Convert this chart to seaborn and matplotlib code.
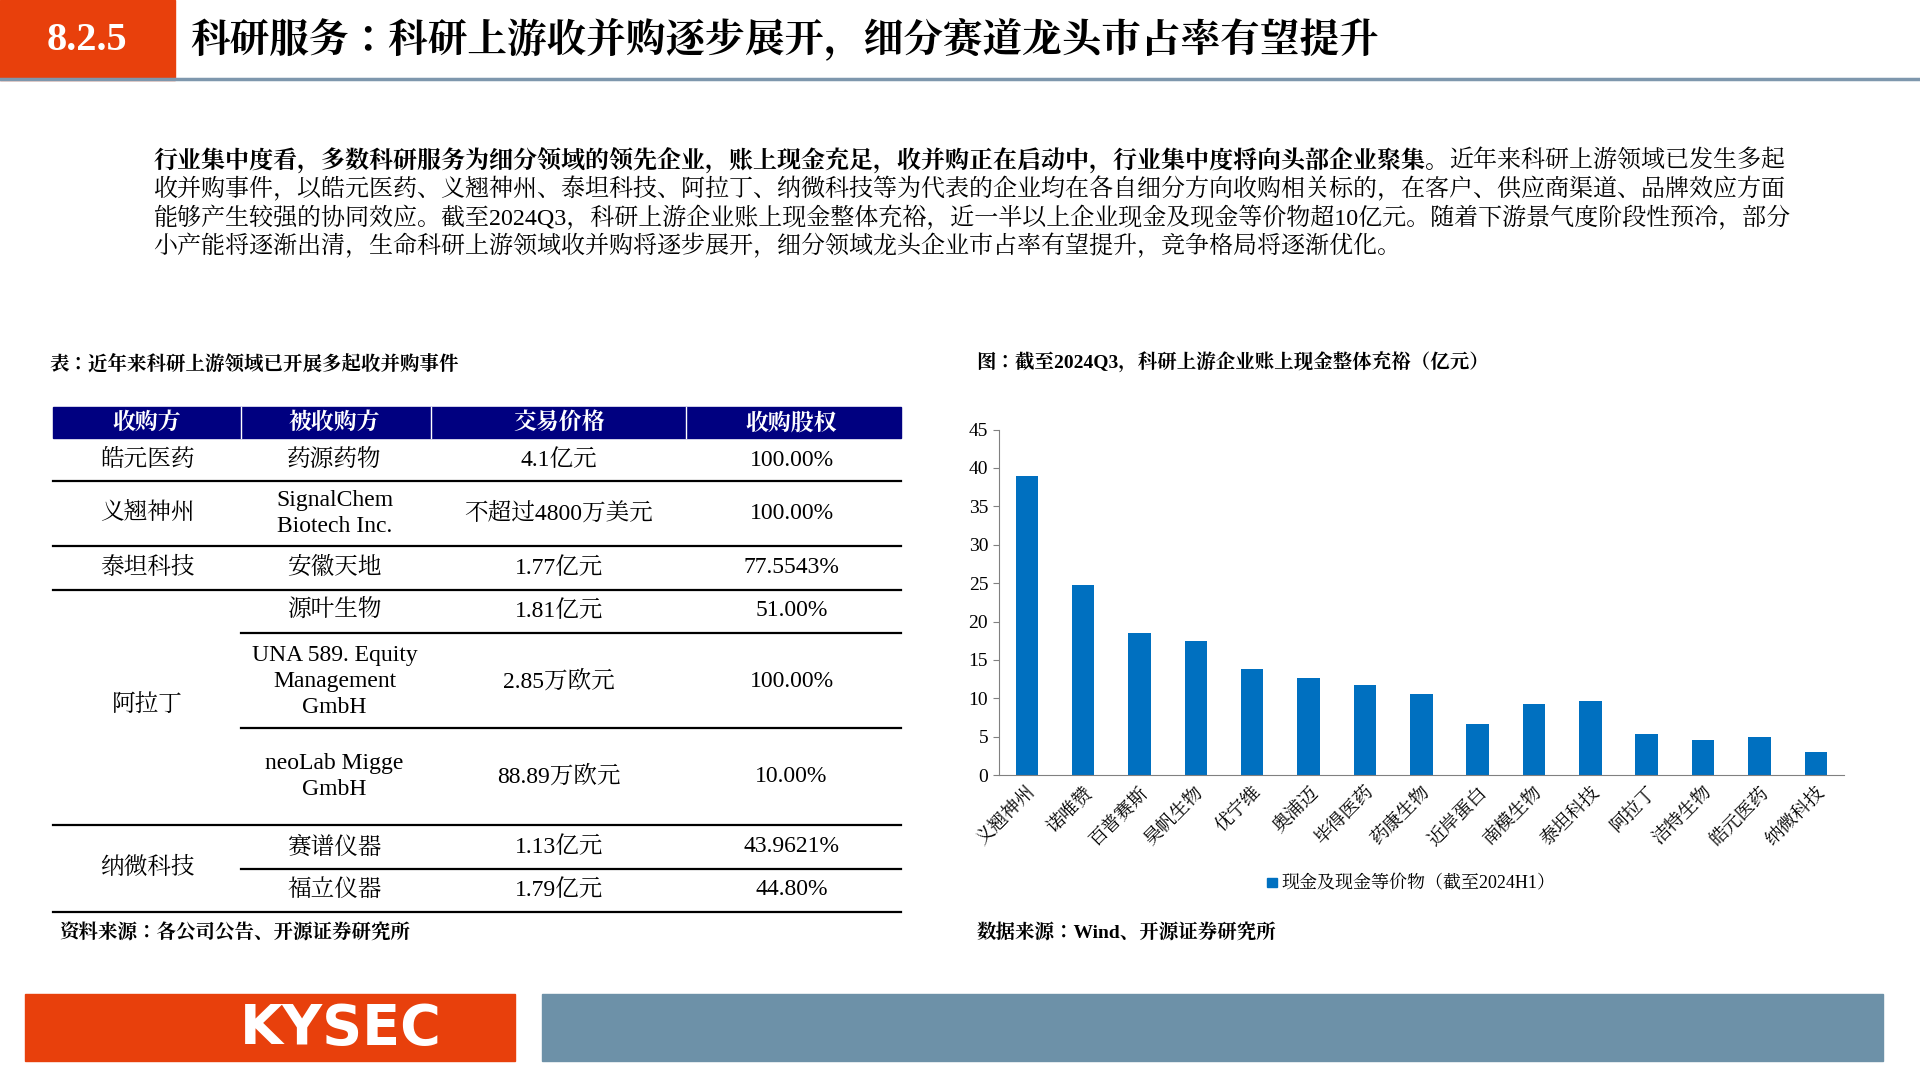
import glob
import matplotlib
matplotlib.use("Agg")
import matplotlib.pyplot as plt
from matplotlib import font_manager as fm
import seaborn as sns
import pandas as pd
from matplotlib.patches import Rectangle

# register the serif CJK fonts shipped as .ttc
cjk_name = "Noto Sans CJK JP"
for f in sorted(glob.glob("/usr/share/fonts/**/NotoSerifCJK*.tt[cf]", recursive=True)):
    fm.fontManager.addfont(f)
    cjk_name = fm.FontProperties(fname=f).get_name()
FONT = ["Liberation Serif", cjk_name]
plt.rcParams["font.family"] = FONT

# data
companies = ["义翘神州", "诺唯赞", "百普赛斯", "昊帆生物", "优宁维", "奥浦迈", "毕得医药", "药康生物",
             "近岸蛋白", "南模生物", "泰坦科技", "阿拉丁", "洁特生物", "皓元医药", "纳微科技"]
cash = [39.0, 24.7, 18.5, 17.4, 13.8, 12.7, 11.7, 10.6, 6.6, 9.3, 9.7, 5.3, 4.6, 4.9, 3.0]
table_header = ["收购方", "被收购方", "交易价格", "收购股权"]
buyers = ["皓元医药", "义翘神州", "泰坦科技", "阿拉丁", "纳微科技"]
targets = ["药源药物", "SignalChem\nBiotech Inc.", "安徽天地", "源叶生物", "UNA 589. Equity\nManagement\nGmbH",
           "neoLab Migge\nGmbH", "赛谱仪器", "福立仪器"]
prices = ["4.1亿元", "不超过4800万美元", "1.77亿元", "1.81亿元", "2.85万欧元", "88.89万欧元", "1.13亿元", "1.79亿元"]
stakes = ["100.00%", "100.00%", "77.5543%", "51.00%", "100.00%", "10.00%", "43.9621%", "44.80%"]

W, H = 1567.0, 875.0
fig = plt.figure(figsize=(19.2, 10.8), dpi=100)


def P(x, y):
    return x / W, 1 - y / H


def text(x, y, s, **kw):
    kw.setdefault("va", "center")
    return fig.text(*P(x, y), s, **kw)


def rect(x0, y0, x1, y1, color):
    fig.patches.append(Rectangle(P(x0, y1), (x1 - x0) / W, (y1 - y0) / H, transform=fig.transFigure,
                                 color=color, zorder=0))


def hline(x0, x1, y, lw=1.6, color="black"):
    fig.add_artist(plt.Line2D([x0 / W, x1 / W], [1 - y / H] * 2, transform=fig.transFigure, color=color, lw=lw))


# header
rect(0, 0, 143, 65, "#E8400C")
text(71, 33, "8.2.5", color="white", fontsize=29, fontweight="bold", ha="center")
text(155, 31, "科研服务：科研上游收并购逐步展开，细分赛道龙头市占率有望提升", fontsize=28.5, fontweight="bold")
hline(0, 1567, 64, lw=2.5, color="#7E97AD")

# paragraph
fig.canvas.draw()
r = fig.canvas.get_renderer()
fs = 17.3
t = text(125, 130, "行业集中度看，多数科研服务为细分领域的领先企业，账上现金充足，收并购正在启动中，行业集中度将向头部企业聚集。",
         fontsize=fs, fontweight="bold")
bb = t.get_window_extent(r)
fig.text(bb.x1 / fig.bbox.width, 1 - 130 / H, "近年来科研上游领域已发生多起", fontsize=fs, va="center")
para = ["收并购事件，以皓元医药、义翘神州、泰坦科技、阿拉丁、纳微科技等为代表的企业均在各自细分方向收购相关标的，在客户、供应商渠道、品牌效应方面",
        "能够产生较强的协同效应。截至2024Q3，科研上游企业账上现金整体充裕，近一半以上企业现金及现金等价物超10亿元。随着下游景气度阶段性预冷，部分",
        "小产能将逐渐出清，生命科研上游领域收并购将逐步展开，细分领域龙头企业市占率有望提升，竞争格局将逐渐优化。"]
for i, line in enumerate(para):
    text(125, 153 + 23 * i, line, fontsize=fs)

# subtitles and sources
text(40, 294, "表：近年来科研上游领域已开展多起收并购事件", fontsize=14, fontweight="bold")
text(797, 294, "图：截至2024Q3，科研上游企业账上现金整体充裕（亿元）", fontsize=14, fontweight="bold")
text(48, 755, "资料来源：各公司公告、开源证券研究所", fontsize=14, fontweight="bold")
text(797, 755, "数据来源：Wind、开源证券研究所", fontsize=14, fontweight="bold")

# table
cols_x = [120, 273, 456, 646]
rect(43, 330, 735, 355, "#000080")
for cx, h in zip(cols_x, table_header):
    text(cx, 343, h, fontsize=16.5, fontweight="bold", color="white", ha="center")
for xv in [197, 352, 560]:
    fig.add_artist(plt.Line2D([xv / W] * 2, [1 - 330 / H, 1 - 355 / H], transform=fig.transFigure, color="white", lw=1))
row_y = [373, 416, 460, 495, 552, 629, 686, 721]
buyer_y = [373, 416, 460, 572, 703]
for b, y in zip(buyers, buyer_y):
    text(120, y, b, fontsize=17, ha="center")
for cells, cx in [(targets, 273), (prices, 456), (stakes, 646)]:
    for s, y in zip(cells, row_y):
        text(cx, y, s, fontsize=17, ha="center", linespacing=1.3)
for y in [390, 442, 478, 668, 739]:
    hline(43, 735, y)
for y in [513, 590, 704]:
    hline(197, 735, y)

# bar chart
ax = fig.add_axes([815 / W, 1 - 628 / H, (1505 - 815) / W, (628 - 348) / H])
df = pd.DataFrame({"company": companies, "cash": cash})
sns.barplot(data=df, x="company", y="cash", color="#0070C0", saturation=1, width=0.4, ax=ax)
ax.set_ylim(0, 45)
ax.set_yticks(range(0, 46, 5))
ax.set_xlim(-0.5, len(companies) - 0.5)
ax.set_xlabel("")
ax.set_ylabel("")
for s in ["top", "right"]:
    ax.spines[s].set_visible(False)
for s in ["left", "bottom"]:
    ax.spines[s].set_color("#808080")
ax.tick_params(axis="y", labelsize=14, length=4, color="#808080")
ax.tick_params(axis="x", length=0, labelsize=13.5, pad=6)
plt.setp(ax.get_xticklabels(), rotation=45, ha="right", rotation_mode="anchor")

rect(1034, 711, 1042, 719, "#0070C0")
text(1046, 716, "现金及现金等价物（截至2024H1）", fontsize=13)

# footer
rect(20, 805, 420, 860, "#E8400C")
text(278, 834, "KYSEC", color="white", fontsize=40, fontweight="bold", ha="center", fontfamily="DejaVu Sans")
rect(442, 805, 1537, 860, "#6D91A8")

fig.savefig("out.png", dpi=100)
